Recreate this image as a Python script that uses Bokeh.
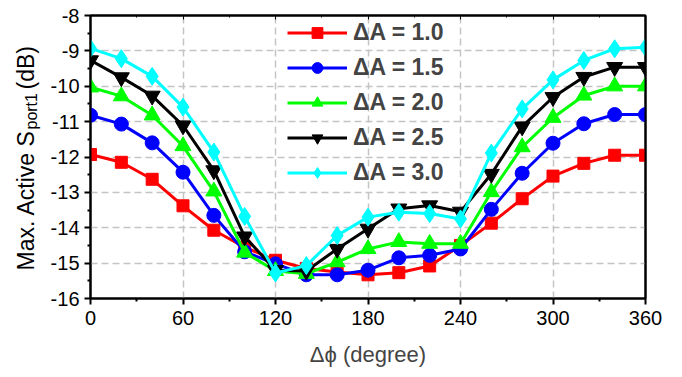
import math
from bokeh.plotting import figure
from bokeh.layouts import row
from bokeh.models import (Range1d, LinearAxis, FixedTicker, Legend, LegendItem)
from bokeh.core.properties import value
from bokeh.embed import file_html
from bokeh.resources import INLINE

phase = [0, 20, 40, 60, 80, 100, 120, 140, 160, 180, 200, 220, 240, 260, 280, 300, 320, 340, 360]

s_a10 = [-11.93, -12.15, -12.63, -13.38, -14.07, -14.55, -14.92, -15.15, -15.25, -15.33, -15.27, -15.08, -14.5,
         -13.87, -13.18, -12.54, -12.18, -11.95, -11.95]
s_a15 = [-10.82, -11.07, -11.6, -12.43, -13.65, -14.68, -15.02, -15.33, -15.33, -15.2, -14.85, -14.78, -14.6,
         -13.48, -12.46, -11.61, -11.06, -10.8, -10.8]
s_a20 = [-10.03, -10.28, -10.82, -11.69, -12.97, -14.7, -15.22, -15.3, -14.97, -14.6, -14.4, -14.45, -14.45,
         -12.99, -11.72, -10.89, -10.26, -10.0, -10.0]
s_a25 = [-9.27, -9.75, -10.27, -11.11, -12.38, -14.25, -15.2, -15.22, -14.6, -14.03, -13.46, -13.37, -13.55,
         -12.48, -11.14, -10.31, -9.74, -9.46, -9.46]
s_a30 = [-8.93, -9.22, -9.72, -10.59, -11.86, -13.68, -15.28, -15.07, -14.22, -13.7, -13.56, -13.6, -13.75,
         -11.89, -10.64, -9.82, -9.27, -8.94, -8.9]

labels = ["\u0394A = 1.0", "\u0394A = 1.5", "\u0394A = 2.0", "\u0394A = 2.5", "\u0394A = 3.0"]
colors = ["#ff0000", "#0000ff", "#00ff00", "#000000", "#00ffff"]
markers = ["square", "circle", "triangle", "inverted_triangle", "diamond"]
msizes = [12, 14, 16, 16, 18]
series = [s_a10, s_a15, s_a20, s_a25, s_a30]

x_ticks = [0, 60, 120, 180, 240, 300, 360]
x_minor = [30, 90, 150, 210, 270, 330]
y_ticks = [-16, -15, -14, -13, -12, -11, -10, -9, -8]
y_minor = [-15.5, -14.5, -13.5, -12.5, -11.5, -10.5, -9.5, -8.5]

FONT = "Liberation Sans"
LAB_W = 47
FRAME_W = 555
FRAME_H = 283
B_TOP = 15
B_BOT = 79

p = figure(frame_width=FRAME_W, frame_height=FRAME_H, output_backend="svg", toolbar_location=None,
           x_range=Range1d(0, 360), y_range=Range1d(-16, -8),
           min_border_left=90 - LAB_W, min_border_right=37, min_border_top=B_TOP, min_border_bottom=B_BOT)
p.background_fill_color = "white"
p.border_fill_color = "white"
p.outline_line_color = "black"
p.outline_line_width = 2

for ax in (p.xaxis[0], p.yaxis[0]):
    ax.axis_line_width = 2
    ax.major_tick_line_width = 2
    ax.minor_tick_line_width = 2
    ax.major_tick_out = 6
    ax.major_tick_in = 0
    ax.minor_tick_out = 3
    ax.minor_tick_in = 0
    ax.major_label_text_font = FONT
    ax.major_label_text_font_size = "20px"
    ax.major_label_text_color = "black"
    ax.axis_label_text_font = FONT
    ax.axis_label_text_font_style = "normal"
    ax.axis_label_text_font_size = "22px"

p.xaxis[0].ticker = FixedTicker(ticks=x_ticks, minor_ticks=x_minor)
p.yaxis[0].ticker = FixedTicker(ticks=y_ticks, minor_ticks=y_minor)
p.yaxis[0].major_label_overrides = {t: str(t) for t in y_ticks}
p.xaxis[0].major_label_standoff = 6
p.yaxis[0].major_label_standoff = 5
p.xaxis[0].axis_label = "\u0394\u03d5 (degree)"
p.xaxis[0].axis_label_standoff = 14
p.yaxis[0].axis_label = None

top = LinearAxis(ticker=FixedTicker(ticks=x_ticks, minor_ticks=x_minor),
                 major_label_overrides={t: "" for t in x_ticks}, axis_line_width=2,
                 major_tick_in=4, major_tick_out=0, minor_tick_in=2, minor_tick_out=0,
                 major_tick_line_width=1, minor_tick_line_width=1, major_label_standoff=0)
right = LinearAxis(ticker=FixedTicker(ticks=y_ticks, minor_ticks=[]),
                   major_label_overrides={t: "" for t in y_ticks}, axis_line_width=2,
                   major_tick_in=0, major_tick_out=0, minor_tick_in=0, minor_tick_out=0,
                   major_label_standoff=0)
p.add_layout(top, "above")
p.add_layout(right, "right")

p.xgrid.ticker = FixedTicker(ticks=x_ticks)
p.ygrid.ticker = FixedTicker(ticks=y_ticks)
for g in (p.xgrid[0], p.ygrid[0]):
    g.grid_line_color = "#c4c4c4"
    g.grid_line_width = 1.5
    g.grid_line_dash = "7 4"

items = []
for ys, lab, col, mk, ms in zip(series, labels, colors, markers, msizes):
    ln = p.line(phase, ys, line_color=col, line_width=3)
    sc = p.scatter(phase, ys, marker=mk, size=ms, fill_color=col, line_color=col)
    items.append(LegendItem(label=lab, renderers=[ln, sc]))

leg = Legend(items=items, location=(191, 106), orientation="vertical",
             background_fill_alpha=0, border_line_alpha=0,
             label_text_font=FONT, label_text_font_style="bold", label_text_font_size="23px",
             glyph_width=60, glyph_height=27, label_height=27, spacing=8, padding=6, margin=0,
             label_standoff=6)
p.add_layout(leg, "center")

# narrow panel holding the y-axis title (with subscript "port1"); 1 data unit = 1 px
q = figure(frame_width=LAB_W, frame_height=FRAME_H, output_backend="svg", toolbar_location=None,
           x_range=Range1d(0, LAB_W), y_range=Range1d(0, FRAME_H),
           min_border_left=0, min_border_right=0, min_border_top=B_TOP, min_border_bottom=B_BOT)
q.axis.visible = False
q.grid.visible = False
q.outline_line_color = None
q.background_fill_color = "white"
q.border_fill_color = "white"

base_x = 25
y0 = 28
main_len = 141
sub_len = 40
q.text(x=[base_x], y=[y0], text=["Max. Active S"], angle=math.pi / 2,
       text_font=value(FONT), text_font_size="23px", text_color="black",
       text_baseline="alphabetic", text_align="left")
q.text(x=[base_x + 6], y=[y0 + main_len], text=["port1"], angle=math.pi / 2,
       text_font=value(FONT), text_font_size="16px", text_color="black",
       text_baseline="alphabetic", text_align="left")
q.text(x=[base_x], y=[y0 + main_len + sub_len], text=[" (dB)"], angle=math.pi / 2,
       text_font=value(FONT), text_font_size="23px", text_color="black",
       text_baseline="alphabetic", text_align="left")

layout = row(q, p, spacing=0)
open("out.html", "w").write(file_html(layout, INLINE))
